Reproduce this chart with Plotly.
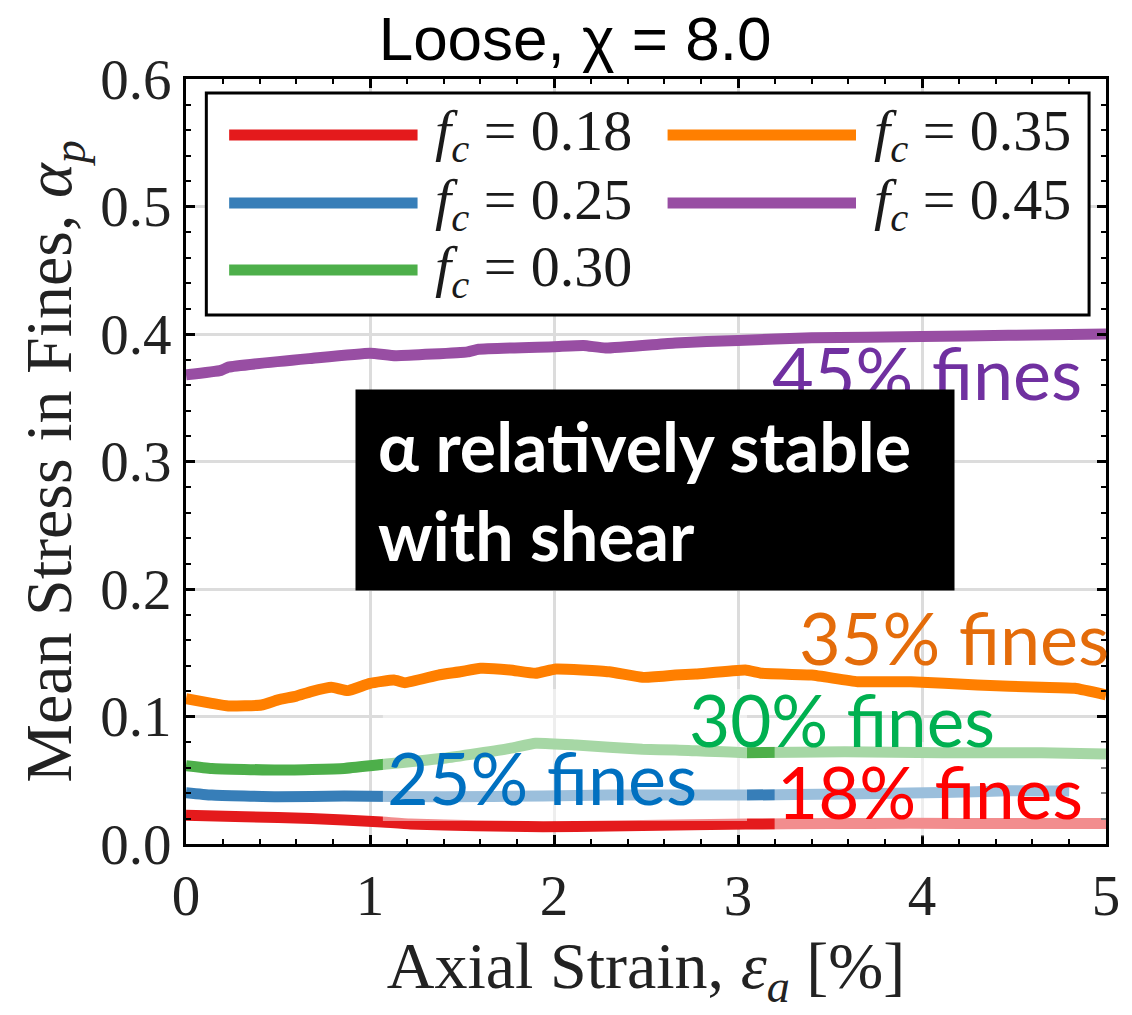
import plotly.graph_objects as go

# Mean stress carried by fines (alpha_p) vs axial strain, loose specimens, chi = 8.0
strain_018 = [0.00, 0.32, 0.68, 1.04, 1.22, 1.58, 1.94, 2.30, 2.66, 3.04, 3.50, 3.94, 4.50, 5.00]
alpha_018 = [0.0225, 0.0214, 0.0200, 0.0175, 0.0157, 0.0144, 0.0136, 0.0141, 0.0149, 0.0157, 0.0160, 0.0162, 0.0161, 0.0160]

strain_025 = [0.00, 0.14, 0.50, 0.86, 1.40, 1.94, 2.30, 2.66, 3.04, 3.58, 4.11, 4.47, 4.80]
alpha_025 = [0.0403, 0.0384, 0.0370, 0.0376, 0.0370, 0.0376, 0.0384, 0.0384, 0.0384, 0.0392, 0.0403, 0.0418, 0.0415]

strain_030 = [0.00, 0.14, 0.50, 0.86, 1.04, 1.40, 1.76, 1.90, 2.12, 2.48, 2.66, 3.04, 3.58, 4.11, 4.65, 5.00]
alpha_030 = [0.0615, 0.0593, 0.0580, 0.0593, 0.0620, 0.0672, 0.0750, 0.0790, 0.0776, 0.0743, 0.0737, 0.0716, 0.0724, 0.0716, 0.0716, 0.0706]

strain_035 = [0.00, 0.14, 0.23, 0.41, 0.50, 0.60, 0.68, 0.79, 0.88, 1.00, 1.13, 1.19, 1.37, 1.49, 1.60,
              1.76, 1.90, 2.01, 2.30, 2.48, 2.66, 2.77, 3.04, 3.13, 3.40, 3.65, 3.94, 4.30, 4.65, 4.83, 5.00]
alpha_035 = [0.1140, 0.1103, 0.1082, 0.1090, 0.1130, 0.1160, 0.1195, 0.1229, 0.1203, 0.1260, 0.1286, 0.1265,
             0.1325, 0.1351, 0.1378, 0.1365, 0.1339, 0.1373, 0.1351, 0.1307, 0.1325, 0.1333, 0.1365, 0.1339,
             0.1325, 0.1273, 0.1273, 0.1247, 0.1229, 0.1221, 0.1169]

strain_045 = [0.00, 0.19, 0.23, 0.69, 1.00, 1.14, 1.53, 1.59, 2.00, 2.16, 2.28, 2.66, 3.00, 3.40, 4.00, 4.47, 5.00]
alpha_045 = [0.3680, 0.3715, 0.3740, 0.3810, 0.3850, 0.3830, 0.3860, 0.3880, 0.3900, 0.3910, 0.3890, 0.3930,
             0.3950, 0.3970, 0.3980, 0.3990, 0.4000]

fines_labels = ["0.18", "0.25", "0.30", "0.35", "0.45"]
line_colors = ["#e41a1c", "#377eb8", "#4daf4a", "#ff7f00", "#984ea3"]
strains = [strain_018, strain_025, strain_030, strain_035, strain_045]
alphas = [alpha_018, alpha_025, alpha_030, alpha_035, alpha_045]

x_ticks = [0, 1, 2, 3, 4, 5]
y_ticks = [0.0, 0.1, 0.2, 0.3, 0.4, 0.5, 0.6]

SERIF = "Liberation Serif, DejaVu Serif, serif"
SANS = "Lato, Liberation Sans, sans-serif"
LINE_W = 11

fig = go.Figure()
for lab, xs, ys, col in zip(fines_labels, strains, alphas, line_colors):
    fig.add_trace(go.Scatter(
        x=xs, y=ys, mode="lines", name=f"fc = {lab}",
        line=dict(color=col, width=LINE_W, shape="spline", smoothing=0.4),
        showlegend=False, hoverinfo="x+y+name",
    ))

shapes = []
annotations = []

# semi-transparent white text boxes laid over the lower curves
for x0, x1, y0, y1 in [(1.07, 3.049, 0.018, 0.1216), (3.199, 5.0, 0.006, 0.080)]:
    shapes.append(dict(type="rect", xref="x", yref="y", x0=x0, x1=x1, y0=y0, y1=y1,
                       fillcolor="rgba(255,255,255,0.5)", line=dict(width=0), layer="above"))

# legend frame (two columns, column-major order)
shapes.append(dict(type="rect", xref="x", yref="y", x0=0.1105, x1=4.908, y0=0.4149, y1=0.589,
                   fillcolor="white", line=dict(color="black", width=3), layer="above"))
col_x = [0.2345, 2.6173]
sample_len = 1.024
row_y = [0.5561, 0.5027, 0.4502]
for i, (lab, col) in enumerate(zip(fines_labels, line_colors)):
    c, r = (0, i) if i < 3 else (1, i - 3)
    xs0 = col_x[c]
    shapes.append(dict(type="line", xref="x", yref="y", x0=xs0, x1=xs0 + sample_len,
                       y0=row_y[r], y1=row_y[r], line=dict(color=col, width=LINE_W), layer="above"))
    annotations.append(dict(xref="x", yref="y", x=xs0 + sample_len + 0.085, y=row_y[r],
                            xanchor="left", yanchor="middle", showarrow=False,
                            text=f"<i>f</i><sub><i>c</i></sub> = {lab}",
                            font=dict(family=SERIF, size=58, color="#1a1a1a")))

# curve labels
annotations.append(dict(xref="x", yref="y", x=3.1725, y=0.3702, xanchor="left", yanchor="middle",
                        showarrow=False, text="45% fines", font=dict(family=SANS, size=72, color="#7030a0")))
annotations.append(dict(xref="x", yref="y", x=2.547, y=0.2776, xanchor="center", yanchor="middle",
                        showarrow=False, text="α relatively stable<br>with shear", align="left",
                        width=554, height=156, borderpad=22, bgcolor="black", valign="middle",
                        font=dict(family=SANS, size=68, color="white", weight="bold")))
annotations.append(dict(xref="x", yref="y", x=3.323, y=0.1622, xanchor="left", yanchor="middle",
                        showarrow=False, text="35% fines", font=dict(family=SANS, size=72, color="#e46c0a")))
annotations.append(dict(xref="x", yref="y", x=2.724, y=0.0980, xanchor="left", yanchor="middle",
                        showarrow=False, text="30% fines", font=dict(family=SANS, size=71, color="#00b050")))
annotations.append(dict(xref="x", yref="y", x=1.080, y=0.0525, xanchor="left", yanchor="middle",
                        showarrow=False, text="25% fines", font=dict(family=SANS, size=72, color="#0070c0")))
annotations.append(dict(xref="x", yref="y", x=3.200, y=0.0415, xanchor="left", yanchor="middle",
                        showarrow=False, text="18% fines", font=dict(family=SANS, size=71, color="#ff0000")))

axis_common = dict(
    showline=True, linecolor="black", linewidth=3, mirror="allticks",
    ticks="inside", ticklen=9, tickwidth=2.5, tickcolor="black",
    showgrid=True, gridcolor="#dcdcdc", gridwidth=2.5, zeroline=False,
    tickfont=dict(family=SERIF, size=57, color="#222222"),
)

fig.update_layout(
    width=1132, height=1015,
    margin=dict(l=186, r=18, t=79, b=171),
    paper_bgcolor="white", plot_bgcolor="white",
    title=dict(text="Loose, χ = 8.0", xref="container", yref="container", x=0.508, y=0.9626,
               xanchor="center", yanchor="middle",
               font=dict(family="Liberation Sans, Arial, sans-serif", size=62, color="black")),
    xaxis=dict(range=[0, 5], tickvals=x_ticks, ticktext=[str(v) for v in x_ticks],
               minor=dict(dtick=0.2, ticklen=5, tickwidth=2, ticks="inside", tickcolor="black", showgrid=False),
               title=dict(text="Axial Strain, <i>ε</i><sub><i>a</i></sub> [%]", standoff=16,
                          font=dict(family=SERIF, size=66, color="#222222")),
               **axis_common),
    yaxis=dict(range=[0, 0.6], tickvals=y_ticks, ticktext=[f"{v:.1f}" for v in y_ticks],
               minor=dict(dtick=0.02, ticklen=5, tickwidth=2, ticks="inside", tickcolor="black", showgrid=False),
               title=dict(text="Mean Stress in Fines, <i>α</i><sub><i>p</i></sub>", standoff=8,
                          font=dict(family=SERIF, size=66, color="#222222")),
               **axis_common),
    shapes=shapes, annotations=annotations,
)

fig.write_html("out.html")
